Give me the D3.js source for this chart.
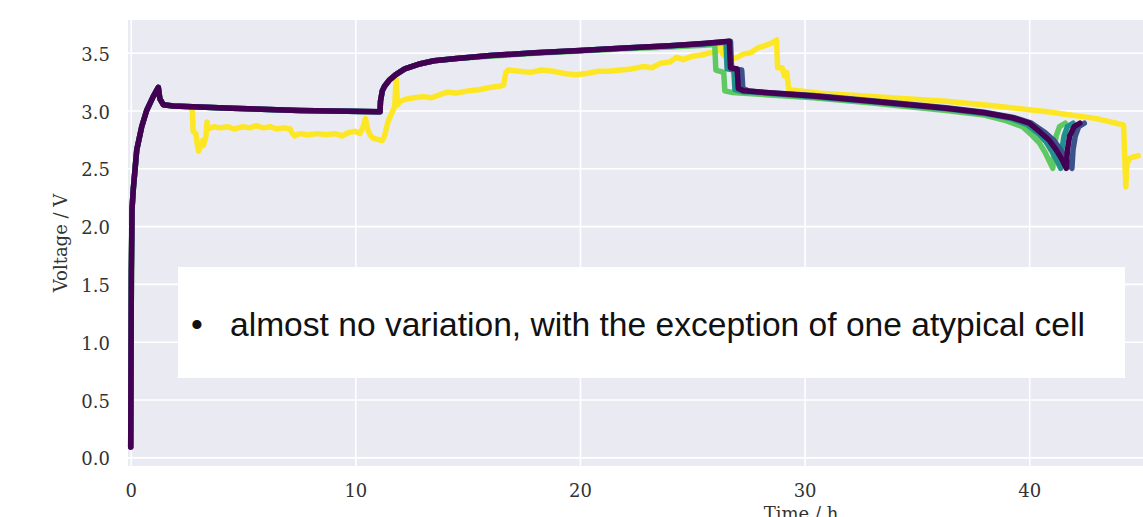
<!DOCTYPE html>
<html>
<head>
<meta charset="utf-8">
<script src="https://cdn.jsdelivr.net/npm/d3@7"></script>
<style>
  html, body { margin: 0; padding: 0; background: #fff; }
  svg { display: block; }
</style>
</head>
<body>
<svg id="chart" width="1143" height="517"></svg>
<script>
// ----------------------
// data
// ----------------------
const xTicks = [0, 10, 20, 30, 40];
const yTicks = [0.0, 0.5, 1.0, 1.5, 2.0, 2.5, 3.0, 3.5];

const purpleT = [0, 0.03, 0.06, 0.12, 0.27, 0.49, 0.71, 1.0, 1.23, 1.3, 1.45, 1.9, 4.5, 7.5, 11.1, 11.12, 11.2, 11.3, 11.5, 11.8, 12.2, 12.8, 13.5, 14.5, 16, 18, 20, 22, 24, 25.5, 26.65, 26.7, 27.0, 27.05, 27.3, 28, 30.4, 33, 36.3, 38, 39.3, 40.0, 40.5, 40.9, 41.2, 41.45, 41.65, 41.7, 41.8, 42.0, 42.25];
const purpleV = [0.09, 1.6, 2.15, 2.33, 2.66, 2.86, 3.0, 3.12, 3.2, 3.1, 3.05, 3.04, 3.02, 3.0, 2.99, 3.08, 3.17, 3.21, 3.26, 3.31, 3.36, 3.40, 3.43, 3.45, 3.475, 3.5, 3.52, 3.54, 3.56, 3.58, 3.6, 3.37, 3.36, 3.19, 3.17, 3.16, 3.125, 3.08, 3.02, 2.98, 2.935, 2.89, 2.81, 2.74, 2.66, 2.58, 2.5, 2.66, 2.78, 2.86, 2.89];

const blueT = [0, 0.03, 0.06, 0.12, 0.27, 0.49, 0.71, 1.0, 1.23, 1.3, 1.45, 1.9, 4.5, 7.5, 11.1, 11.12, 11.2, 11.3, 11.5, 11.8, 12.2, 12.8, 13.5, 14.5, 16, 18, 20, 22, 24, 25.5, 26.7, 26.75, 27.2, 27.25, 27.5, 28, 30.4, 33, 36.3, 38, 39.3, 40.1, 40.7, 41.1, 41.4, 41.7, 41.9, 41.95, 42.05, 42.2, 42.45];
const blueV = [0.09, 1.6, 2.15, 2.33, 2.66, 2.86, 3.0, 3.12, 3.2, 3.1, 3.05, 3.04, 3.02, 3.0, 2.99, 3.08, 3.17, 3.21, 3.26, 3.31, 3.36, 3.40, 3.43, 3.45, 3.475, 3.5, 3.52, 3.54, 3.56, 3.58, 3.6, 3.36, 3.35, 3.19, 3.17, 3.16, 3.13, 3.085, 3.025, 2.985, 2.94, 2.89, 2.81, 2.74, 2.66, 2.56, 2.5, 2.66, 2.78, 2.86, 2.89];

const tealT = [0, 0.03, 0.06, 0.12, 0.27, 0.49, 0.71, 1.0, 1.23, 1.3, 1.45, 1.9, 4.5, 7.5, 11.1, 11.12, 11.2, 11.3, 11.5, 11.8, 12.2, 12.8, 13.5, 14.5, 16, 18, 20, 22, 24, 25.5, 26.5, 26.55, 26.85, 26.9, 27.2, 28, 30.4, 33, 36.3, 38, 39.2, 39.9, 40.4, 40.75, 41.0, 41.25, 41.4, 41.45, 41.55, 41.7, 41.95];
const tealV = [0.09, 1.6, 2.15, 2.33, 2.66, 2.86, 3.0, 3.12, 3.2, 3.1, 3.05, 3.04, 3.02, 3.0, 2.99, 3.08, 3.17, 3.21, 3.26, 3.31, 3.36, 3.40, 3.43, 3.45, 3.475, 3.5, 3.52, 3.54, 3.56, 3.575, 3.59, 3.36, 3.35, 3.18, 3.165, 3.155, 3.12, 3.075, 3.015, 2.975, 2.93, 2.88, 2.8, 2.73, 2.65, 2.56, 2.5, 2.66, 2.78, 2.86, 2.89];

const greenT = [0, 0.03, 0.06, 0.12, 0.27, 0.49, 0.71, 1.0, 1.23, 1.3, 1.45, 1.9, 4.5, 7.5, 11.1, 11.12, 11.2, 11.3, 11.5, 11.8, 12.2, 12.8, 13.5, 14.5, 16, 18, 20, 22, 24, 25.5, 26.0, 26.05, 26.4, 26.45, 26.8, 28, 30.4, 33, 36.3, 38, 39.0, 39.7, 40.1, 40.45, 40.7, 40.9, 41.05, 41.1, 41.2, 41.35, 41.6];
const greenV = [0.09, 1.6, 2.15, 2.33, 2.66, 2.86, 3.0, 3.12, 3.2, 3.1, 3.05, 3.04, 3.02, 3.0, 2.99, 3.08, 3.17, 3.21, 3.26, 3.31, 3.36, 3.40, 3.43, 3.45, 3.47, 3.495, 3.515, 3.535, 3.55, 3.565, 3.57, 3.35, 3.33, 3.17, 3.155, 3.14, 3.11, 3.065, 3.0, 2.96, 2.91, 2.86, 2.79, 2.72, 2.64, 2.56, 2.5, 2.66, 2.78, 2.86, 2.89];

// the atypical cell
const yellowT = [0, 0.03, 0.06, 0.12, 0.27, 0.49, 0.71, 1.0, 1.23, 1.3, 1.45, 1.9, 2.7,
  2.75, 2.78, 2.9, 2.97, 3.02, 3.1, 3.2, 3.25, 3.35, 3.4, 3.45, 3.7, 4.0, 4.3, 4.6, 5.0, 5.3, 5.6, 5.9, 6.2, 6.5, 6.8, 7.1, 7.2, 7.3, 7.5, 7.9, 8.3, 8.7, 9.1, 9.4, 9.7, 10.0, 10.2, 10.35, 10.45, 10.55, 10.65, 10.8, 11.0, 11.2,
  11.3, 11.45, 11.6, 11.75, 11.82, 11.88, 12.0, 12.3, 12.6, 13.0, 13.4, 13.8, 14.1, 14.5, 15.0, 15.5, 16.0, 16.4, 16.6, 16.7, 16.8, 17.3, 17.8, 18.3, 18.8, 19.3, 19.8, 20.3, 20.8, 21.3, 21.8, 22.3, 22.8, 23.2, 23.6, 24.0, 24.3, 24.6, 25.0, 25.4, 25.8, 26.1, 26.25, 26.35, 26.5, 26.7, 27.0, 27.3, 27.6, 27.9, 28.2, 28.5, 28.75,
  28.8, 29.0, 29.1, 29.2, 29.3, 30.7, 33.5, 36.3, 38.5, 40.8, 43.0, 44.2, 44.3, 44.35, 44.5, 44.85];
const yellowV = [0.09, 1.6, 2.15, 2.33, 2.66, 2.86, 3.0, 3.12, 3.2, 3.1, 3.05, 3.04, 3.03,
  2.98, 2.82, 2.8, 2.7, 2.65, 2.68, 2.74, 2.7, 2.78, 2.9, 2.84, 2.86, 2.85, 2.86, 2.84, 2.86, 2.85, 2.87, 2.85, 2.86, 2.84, 2.85, 2.84, 2.8, 2.78, 2.8, 2.79, 2.8, 2.79, 2.8, 2.78, 2.81, 2.82, 2.8, 2.86, 2.93, 2.84, 2.79, 2.76, 2.75, 2.74,
  2.78, 2.9, 2.97, 3.03, 3.27, 3.05, 3.08, 3.1, 3.11, 3.12, 3.11, 3.14, 3.16, 3.15, 3.17, 3.18, 3.2, 3.21, 3.22, 3.33, 3.35, 3.34, 3.33, 3.35, 3.34, 3.32, 3.31, 3.32, 3.34, 3.34, 3.35, 3.36, 3.38, 3.37, 3.41, 3.42, 3.46, 3.44, 3.47, 3.48, 3.5, 3.51, 3.57, 3.49, 3.46, 3.44, 3.46, 3.49, 3.5, 3.54, 3.56, 3.58, 3.61,
  3.37, 3.37, 3.3, 3.33, 3.18, 3.15, 3.115, 3.08, 3.04, 2.99, 2.93, 2.875, 2.34, 2.54, 2.59, 2.61];

const cellNames  = ["yellow", "green", "teal", "blue", "purple"];
const cellColors = ["#fde725", "#5ec962", "#21918c", "#3b528b", "#440154"];
const cellTimes  = [yellowT, greenT, tealT, blueT, purpleT];
const cellVolts  = [yellowV, greenV, tealV, blueV, purpleV];

const noteText = "almost no variation, with the exception of one atypical cell";

// ----------------------
// layout
// ----------------------
const svg = d3.select("#chart");
const margin = { top: 20, left: 128 };
const plotW = 1346;   // the figure runs on past the right edge of the picture
const plotH = 446;

const x = d3.scaleLinear().domain([-0.12, 59.8]).range([0, plotW]);
const y = d3.scaleLinear().domain([-0.075, 3.783]).range([plotH, 0]);

const g = svg.append("g")
  .attr("transform", `translate(${margin.left},${margin.top})`);

g.append("rect")
  .attr("width", plotW)
  .attr("height", plotH)
  .attr("fill", "#eaeaf2");

// grid
g.append("g")
  .attr("class", "grid")
  .call(d3.axisLeft(y).tickValues(yTicks).tickSize(-plotW).tickFormat(""))
  .call(s => s.select(".domain").remove())
  .call(s => s.selectAll("line").attr("stroke", "#fff").attr("stroke-width", 1.6));

g.append("g")
  .attr("class", "grid")
  .attr("transform", `translate(0,${plotH})`)
  .call(d3.axisBottom(x).tickValues(xTicks).tickSize(-plotH).tickFormat(""))
  .call(s => s.select(".domain").remove())
  .call(s => s.selectAll("line").attr("stroke", "#fff").attr("stroke-width", 1.6));

// lines
const line = d3.line()
  .x(d => x(d[0]))
  .y(d => y(d[1]));

cellNames.forEach((name, i) => {
  const pts = d3.zip(cellTimes[i], cellVolts[i]);
  g.append("path")
    .datum(pts)
    .attr("class", "cell-" + name)
    .attr("fill", "none")
    .attr("stroke", cellColors[i])
    .attr("stroke-width", 5.5)
    .attr("stroke-linejoin", "round")
    .attr("stroke-linecap", "round")
    .attr("d", line);
});

// axes (labels only)
const tickFont = "'DejaVu Serif', serif";

g.append("g")
  .call(d3.axisLeft(y).tickValues(yTicks).tickSize(0).tickPadding(18).tickFormat(d3.format(".1f")))
  .call(s => s.select(".domain").remove())
  .call(s => s.selectAll("text")
    .attr("font-family", tickFont)
    .attr("font-size", 18)
    .attr("fill", "#333")
    .attr("dy", "0.42em"));

g.append("g")
  .attr("transform", `translate(0,${plotH})`)
  .call(d3.axisBottom(x).tickValues(xTicks).tickSize(0).tickPadding(18).tickFormat(d3.format("d")))
  .call(s => s.select(".domain").remove())
  .call(s => s.selectAll("text")
    .attr("font-family", tickFont)
    .attr("font-size", 18)
    .attr("fill", "#333"));

svg.append("text")
  .attr("transform", "translate(67,243) rotate(-90)")
  .attr("text-anchor", "middle")
  .attr("font-family", tickFont)
  .attr("font-size", 18)
  .attr("fill", "#333")
  .text("Voltage / V");

svg.append("text")
  .attr("x", margin.left + plotW / 2)
  .attr("y", 520)
  .attr("text-anchor", "middle")
  .attr("font-family", tickFont)
  .attr("font-size", 18)
  .attr("fill", "#333")
  .text("Time / h");

// note box over the plot
svg.append("rect")
  .attr("x", 178)
  .attr("y", 267)
  .attr("width", 947)
  .attr("height", 111)
  .attr("fill", "#fff");

svg.append("text")
  .attr("x", 197)
  .attr("y", 336)
  .attr("text-anchor", "middle")
  .attr("font-family", "'Liberation Sans', Arial, sans-serif")
  .attr("font-size", 33.6)
  .attr("fill", "#111")
  .text("\u2022");

svg.append("text")
  .attr("x", 230)
  .attr("y", 336)
  .attr("font-family", "'Liberation Sans', Arial, sans-serif")
  .attr("font-size", 33.6)
  .attr("fill", "#111")
  .text(noteText);
</script>
</body>
</html>
